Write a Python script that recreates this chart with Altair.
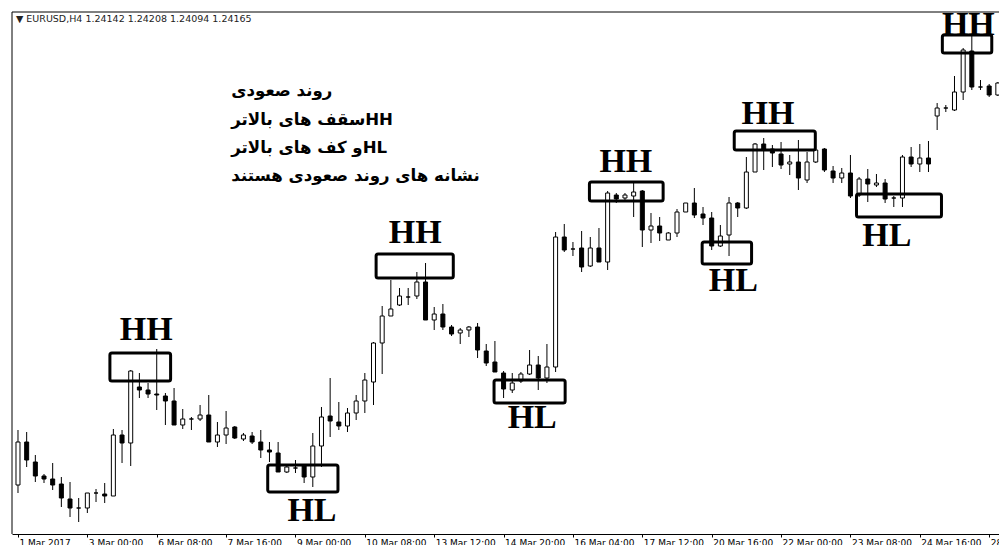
import json
import altair as alt
import pandas as pd

# ---- OHLC data (EURUSD H4) ----
opens = [1.0525, 1.0568, 1.0548, 1.0534, 1.0531, 1.0526, 1.0511, 1.0502, 1.0502, 1.0517,
         1.0516, 1.0514, 1.0575, 1.0567, 1.0623, 1.0620, 1.0616, 1.0614, 1.0609, 1.0585,
         1.0591, 1.0591, 1.0595, 1.0568, 1.0575, 1.0583, 1.0571, 1.0574, 1.0568, 1.0560,
         1.0557, 1.0538, 1.0542, 1.0544, 1.0533, 1.0564, 1.0594, 1.0588, 1.0584, 1.0597,
         1.0609, 1.0628, 1.0667, 1.0694, 1.0705, 1.0713, 1.0714, 1.0728, 1.0690, 1.0696,
         1.0683, 1.0677, 1.0680, 1.0683, 1.0659, 1.0648, 1.0637, 1.0620, 1.0629, 1.0636,
         1.0645, 1.0632, 1.0643, 1.0773, 1.0761, 1.0762, 1.0744, 1.0762, 1.0748, 1.0815,
         1.0812, 1.0814, 1.0819, 1.0780, 1.0784, 1.0770, 1.0777, 1.0798, 1.0807, 1.0796,
         1.0792, 1.0764, 1.0775, 1.0807, 1.0802, 1.0838, 1.0866, 1.0861, 1.0856, 1.0846,
         1.0848, 1.0830, 1.0848, 1.0861, 1.0839, 1.0832, 1.0837, 1.0815, 1.0831, 1.0825,
         1.0827, 1.0812, 1.0812, 1.0853, 1.0846, 1.0852, 1.0894, 1.0902, 1.0900, 1.0918,
         1.0959, 1.0923, 1.0924, 1.0915]
highs = [1.0580, 1.0578, 1.0555, 1.0536, 1.0547, 1.0533, 1.0528, 1.0512, 1.0517, 1.0521,
         1.0527, 1.0581, 1.0580, 1.0640, 1.0637, 1.0627, 1.0661, 1.0617, 1.0622, 1.0601,
         1.0593, 1.0605, 1.0615, 1.0588, 1.0599, 1.0584, 1.0577, 1.0578, 1.0580, 1.0568,
         1.0568, 1.0546, 1.0550, 1.0544, 1.0577, 1.0603, 1.0632, 1.0608, 1.0602, 1.0615,
         1.0637, 1.0668, 1.0704, 1.0730, 1.0722, 1.0722, 1.0738, 1.0747, 1.0703, 1.0706,
         1.0685, 1.0682, 1.0684, 1.0687, 1.0666, 1.0669, 1.0639, 1.0637, 1.0638, 1.0660,
         1.0654, 1.0666, 1.0778, 1.0786, 1.0768, 1.0779, 1.0773, 1.0782, 1.0819, 1.0817,
         1.0817, 1.0828, 1.0820, 1.0797, 1.0793, 1.0778, 1.0801, 1.0807, 1.0822, 1.0803,
         1.0798, 1.0785, 1.0813, 1.0808, 1.0853, 1.0867, 1.0872, 1.0865, 1.0868, 1.0855,
         1.0870, 1.0858, 1.0862, 1.0862, 1.0844, 1.0842, 1.0855, 1.0833, 1.0841, 1.0836,
         1.0831, 1.0814, 1.0855, 1.0863, 1.0866, 1.0869, 1.0907, 1.0905, 1.0934, 1.0962,
         1.0974, 1.0930, 1.0926, 1.0928]
lows = [1.0517, 1.0543, 1.0528, 1.0527, 1.0520, 1.0503, 1.0493, 1.0488, 1.0497, 1.0508,
        1.0507, 1.0514, 1.0547, 1.0544, 1.0612, 1.0612, 1.0600, 1.0585, 1.0585, 1.0581,
        1.0580, 1.0589, 1.0568, 1.0563, 1.0566, 1.0571, 1.0569, 1.0566, 1.0552, 1.0548,
        1.0538, 1.0537, 1.0537, 1.0527, 1.0523, 1.0543, 1.0573, 1.0580, 1.0578, 1.0590,
        1.0597, 1.0605, 1.0636, 1.0694, 1.0704, 1.0705, 1.0711, 1.0690, 1.0680, 1.0680,
        1.0674, 1.0666, 1.0673, 1.0652, 1.0644, 1.0638, 1.0612, 1.0617, 1.0627, 1.0635,
        1.0620, 1.0627, 1.0638, 1.0758, 1.0754, 1.0738, 1.0743, 1.0748, 1.0740, 1.0807,
        1.0810, 1.0793, 1.0763, 1.0767, 1.0769, 1.0770, 1.0773, 1.0798, 1.0792, 1.0785,
        1.0760, 1.0763, 1.0754, 1.0793, 1.0801, 1.0838, 1.0840, 1.0843, 1.0841, 1.0835,
        1.0820, 1.0827, 1.0847, 1.0838, 1.0827, 1.0827, 1.0812, 1.0813, 1.0808, 1.0823,
        1.0807, 1.0803, 1.0803, 1.0843, 1.0838, 1.0838, 1.0880, 1.0898, 1.0899, 1.0910,
        1.0920, 1.0920, 1.0913, 1.0914]
closes = [1.0568, 1.0550, 1.0534, 1.0531, 1.0525, 1.0512, 1.0502, 1.0502, 1.0517, 1.0517,
          1.0514, 1.0575, 1.0567, 1.0639, 1.0620, 1.0616, 1.0615, 1.0609, 1.0585, 1.0591,
          1.0591, 1.0595, 1.0568, 1.0575, 1.0582, 1.0572, 1.0575, 1.0568, 1.0560, 1.0558,
          1.0538, 1.0543, 1.0542, 1.0533, 1.0564, 1.0593, 1.0589, 1.0584, 1.0597, 1.0609,
          1.0630, 1.0667, 1.0694, 1.0701, 1.0714, 1.0713, 1.0728, 1.0690, 1.0696, 1.0683,
          1.0676, 1.0680, 1.0683, 1.0660, 1.0647, 1.0638, 1.0621, 1.0627, 1.0636, 1.0645,
          1.0632, 1.0643, 1.0773, 1.0760, 1.0761, 1.0743, 1.0762, 1.0748, 1.0817, 1.0811,
          1.0815, 1.0818, 1.0780, 1.0784, 1.0777, 1.0777, 1.0798, 1.0807, 1.0795, 1.0792,
          1.0764, 1.0774, 1.0807, 1.0802, 1.0838, 1.0866, 1.0861, 1.0857, 1.0845, 1.0848,
          1.0832, 1.0848, 1.0860, 1.0840, 1.0832, 1.0837, 1.0814, 1.0831, 1.0826, 1.0827,
          1.0811, 1.0812, 1.0853, 1.0846, 1.0852, 1.0846, 1.0902, 1.0902, 1.0918, 1.0960,
          1.0923, 1.0923, 1.0915, 1.0927]

# ---- time axis ----
tick_bars = [0, 8, 16, 24, 32, 40, 48, 56, 64, 72, 80, 88, 96, 104, 112]
tick_labels = ["1 Mar 2017", "3 Mar 00:00", "6 Mar 08:00", "7 Mar 16:00", "9 Mar 00:00",
               "10 Mar 08:00", "13 Mar 12:00", "14 Mar 20:00", "16 Mar 04:00",
               "17 Mar 12:00", "20 Mar 16:00", "22 Mar 00:00", "23 Mar 08:00",
               "24 Mar 16:00", "28 Mar 00:00"]

# ---- swing annotations (boxes + HH/HL labels) ----
box_start = [10.6, 28.8, 41.3, 54.9, 65.9, 78.9, 82.6, 96.7, 106.6]
box_end = [17.6, 36.9, 50.2, 63.1, 74.4, 84.6, 91.95, 106.5, 112.3]
box_top = [1.0657, 1.0545, 1.0756, 1.0630, 1.0828, 1.0768, 1.0879, 1.0816, 1.0975]
box_bottom = [1.0629, 1.0518, 1.0732, 1.0607, 1.0809, 1.0746, 1.0860, 1.0793, 1.0957]

swing_text = ["HH", "HL", "HH", "HL", "HH", "HL", "HH", "HL", "HH"]
swing_x = [14.8, 33.9, 45.8, 59.3, 70.1, 82.5, 86.5, 100.2, 109.6]
swing_y = [1.0670, 1.0489, 1.0767, 1.0582, 1.0838, 1.0719, 1.0886, 1.0764, 1.0975]

note_lines = ["روند صعودی",
              "سقف های بالاتر" + "HH",
              "و کف های بالاتر" + "HL",
              "نشانه های روند صعودی هستند"]
note_x = [24.6, 24.6, 24.6, 24.6]
note_y = [1.0914, 1.0885, 1.0857, 1.0829]

chart_title = "▼ EURUSD,H4  1.24142 1.24208 1.24094 1.24165"

# ---- build ----
df = pd.DataFrame({"bar": list(range(len(opens))), "open": opens, "high": highs,
                   "low": lows, "close": closes})
df["dir"] = ["up" if c > o else ("down" if c < o else "flat") for o, c in zip(opens, closes)]

boxes = pd.DataFrame({"x0": box_start, "x1": box_end, "top": box_top, "bottom": box_bottom})
swings = pd.DataFrame({"x": swing_x, "y": swing_y, "t": swing_text})
notes = pd.DataFrame({"x": note_x, "y": note_y, "t": note_lines})

W, H = 987, 522
xscale = alt.Scale(domain=[-0.114, 112.557], nice=False, zero=False)
yscale = alt.Scale(domain=[1.0476, 1.0998], nice=False, zero=False)

label_expr = json.dumps(tick_labels) + "[round(datum.value / 8)]"
xaxis = alt.Axis(values=tick_bars, labelExpr=label_expr, title=None, grid=False,
                 labelAlign="left", labelBaseline="top", labelPadding=1, labelOffset=1,
                 tickSize=3, tickColor="black", domainColor="black", labelColor="black",
                 labelFont="DejaVu Sans", labelFontSize=9, labelOverlap=False,
                 labelBound=False, labelFlush=False)

base = alt.Chart(df)
wicks = base.mark_rule(color="black", strokeWidth=1, clip=True).encode(
    x=alt.X("bar:Q", scale=xscale, axis=xaxis),
    y=alt.Y("low:Q", scale=yscale, axis=None),
    y2="high:Q",
)
bodies = base.mark_bar(size=4, stroke="black", strokeWidth=1, clip=True).encode(
    x=alt.X("bar:Q", scale=xscale),
    y=alt.Y("open:Q", scale=yscale),
    y2="close:Q",
    fill=alt.Fill("dir:N", scale=alt.Scale(domain=["up", "down", "flat"],
                                           range=["white", "black", "white"]), legend=None),
)
rects = alt.Chart(boxes).mark_rect(filled=False, stroke="black", strokeWidth=3,
                                   cornerRadius=2, clip=True).encode(
    x=alt.X("x0:Q", scale=xscale), x2="x1:Q",
    y=alt.Y("top:Q", scale=yscale), y2="bottom:Q",
)
swing_labels = alt.Chart(swings).mark_text(font="Liberation Serif", fontSize=34,
                                           fontWeight="bold", align="center",
                                           baseline="alphabetic", color="black").encode(
    x=alt.X("x:Q", scale=xscale), y=alt.Y("y:Q", scale=yscale), text="t:N",
)
note_text = alt.Chart(notes).mark_text(font="DejaVu Sans", fontSize=16.6, fontWeight="bold",
                                       align="left", baseline="alphabetic",
                                       color="black").encode(
    x=alt.X("x:Q", scale=xscale), y=alt.Y("y:Q", scale=yscale), text="t:N",
)
title_text = alt.Chart(pd.DataFrame({"t": [chart_title]})).mark_text(
    font="DejaVu Sans", fontSize=9.5, align="left", baseline="alphabetic", color="#222222"
).encode(x=alt.value(4), y=alt.value(9.5), text="t:N")

# chart frame: top and left edges only (right side continues past the window)
frame_src = alt.Chart(pd.DataFrame({"k": [0]}))
frame_top = frame_src.mark_rule(color="black", strokeWidth=1).encode(
    x=alt.value(0), x2=alt.value(W), y=alt.value(0))
frame_left = frame_src.mark_rule(color="black", strokeWidth=1).encode(
    x=alt.value(0), y=alt.value(0), y2=alt.value(H))

chart = alt.layer(wicks, bodies, rects, swing_labels, note_text, title_text,
                  frame_top, frame_left).properties(
    width=W, height=H, autosize="none",
    padding={"left": 4, "top": 4, "right": 0, "bottom": 14},
    background="white",
).configure_view(strokeWidth=0)

chart.save("out.html", embed_options={"renderer": "svg", "actions": False})
